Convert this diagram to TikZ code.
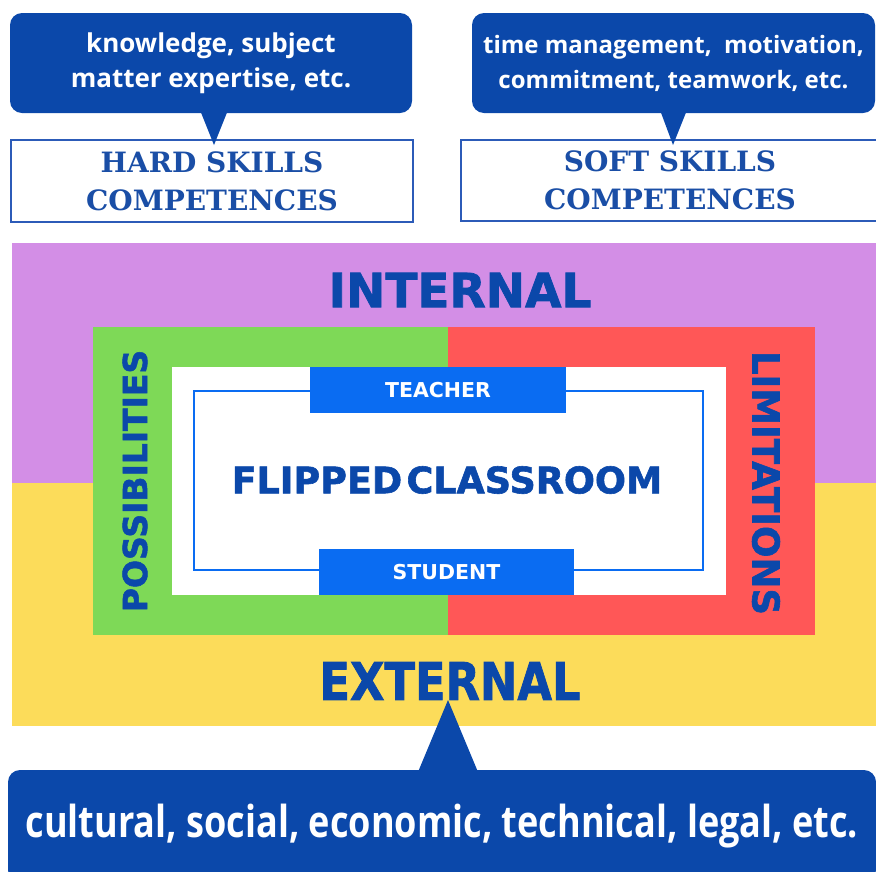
\documentclass[tikz,border=0pt]{standalone}
\usepackage{fontspec}
\newfontfamily\osans{Open Sans}
\newfontfamily\djsans{DejaVu Sans}[BoldFeatures={FakeBold=1.6}]
\newfontfamily\djplain{DejaVu Sans}
\newfontfamily\djserif{DejaVu Serif}
\definecolor{navy}{HTML}{0B48AA}
\definecolor{txtblue}{HTML}{1A4EA6}
\definecolor{lilac}{HTML}{D38EE6}
\definecolor{sun}{HTML}{FCDC5A}
\definecolor{leaf}{HTML}{7ED957}
\definecolor{coral}{HTML}{FF5757}
\definecolor{bright}{HTML}{0A6CF2}
\definecolor{frame}{HTML}{2C5BB8}
\begin{document}
\begin{tikzpicture}[x=1pt,y=-1pt,
  area/.style={inner sep=0pt,outer sep=0pt,draw=none},
  callout/.style={area,fill=navy,rounded corners=12pt,text=white,align=center,font=\osans\bfseries\fontsize{24.5}{35}\selectfont},
  skillbox/.style={area,fill=white,draw=frame,line width=1.3pt,text=txtblue,align=center,font=\djserif\bfseries\fontsize{28}{38}\selectfont},
  rolebox/.style={area,fill=bright,text=white,font=\djplain\bfseries\fontsize{20.5}{22}\selectfont},
  heavy/.style={inner sep=0pt,text=navy,font=\djsans\bfseries}
]
\useasboundingbox (0,0) rectangle (876,871);
\clip (0,0) rectangle (876,871);

% bands
\node[area,fill=lilac,minimum width=864pt,minimum height=240pt] (inner) at (444,363) {};
\node[area,fill=sun,minimum width=864pt,minimum height=243pt] (outer) at (444,604.5) {};
\node[area,fill=leaf,minimum width=355pt,minimum height=308pt] (poss) at (270.5,481) {};
\node[area,fill=coral,minimum width=367pt,minimum height=308pt] (lim) at (631.5,481) {};
\node[area,fill=white,minimum width=554pt,minimum height=228pt] (core) at (449,481) {};
\node[area,draw=bright,line width=2pt,minimum width=509pt,minimum height=179pt] (frameline) at (448.5,480.5) {};
\node[rolebox,minimum width=256pt,minimum height=46pt] (teacher) at (438,390) {TEACHER};
\node[rolebox,minimum width=255pt,minimum height=46pt] (student) at (446.5,572) {STUDENT};

\node[heavy,font=\djsans\bfseries\fontsize{47}{50}\selectfont] (internal) at (460,290) {INTERNAL};
\node[heavy,font=\djsans\bfseries\fontsize{36.5}{40}\selectfont] (fc) at (447,480) {FLIPPED\hspace{0.12em}CLASSROOM};
\node[heavy,font=\djsans\bfseries\fontsize{33}{36}\selectfont,rotate=90] (posstext) at (135,481) {POSSIBILITIES};
\node[heavy,font=\djsans\bfseries\fontsize{37}{40}\selectfont,rotate=-90] (limtext) at (766,483) {LIMITATIONS};

% bottom callout
\coordinate (t3) at (448,700);
\coordinate (b3l) at (418,772);
\coordinate (b3r) at (478,772);
\fill[navy] (b3l) -- (t3) -- (b3r) -- cycle;
\node[heavy,font=\djsans\bfseries\fontsize{52}{56}\selectfont] (external) at (450,681) {\scalebox{0.86}[1]{EXTERNAL}};
\node[callout,minimum width=868pt,minimum height=112pt,font=\osans\bfseries\fontsize{44}{48}\selectfont] (c3) at (442,826) {\scalebox{0.82}[1]{cultural, social, economic, technical, legal, etc.}};

% top skill boxes
\node[skillbox,minimum width=402pt,minimum height=82pt] (hard) at (212,181) {HARD SKILLS\\COMPETENCES};
\node[skillbox,minimum width=419pt,minimum height=81pt] (soft) at (670.5,180.5) {};
\node[text=txtblue,align=center,font=\djserif\bfseries\fontsize{28}{38}\selectfont] (softtext) at (670,180) {SOFT SKILLS\\COMPETENCES};

\node[callout,minimum width=402pt,minimum height=100pt,font=\osans\bfseries\fontsize{26}{35}\selectfont] (c1) at (211,63) {knowledge, subject\\matter expertise, etc.};
\node[callout,minimum width=403pt,minimum height=100pt,font=\osans\bfseries\fontsize{24}{35}\selectfont] (c2) at (673.5,63) {time management,\ \ motivation,\\commitment, teamwork, etc.};

\coordinate (t1) at (214,145);
\coordinate (b1l) at (200,110);
\coordinate (b1r) at (228,110);
\fill[navy] (b1l) -- (t1) -- (b1r) -- cycle;
\coordinate (t2) at (673,145);
\coordinate (b2l) at (660,110);
\coordinate (b2r) at (687,110);
\fill[navy] (b2l) -- (t2) -- (b2r) -- cycle;
\end{tikzpicture}
\end{document}
